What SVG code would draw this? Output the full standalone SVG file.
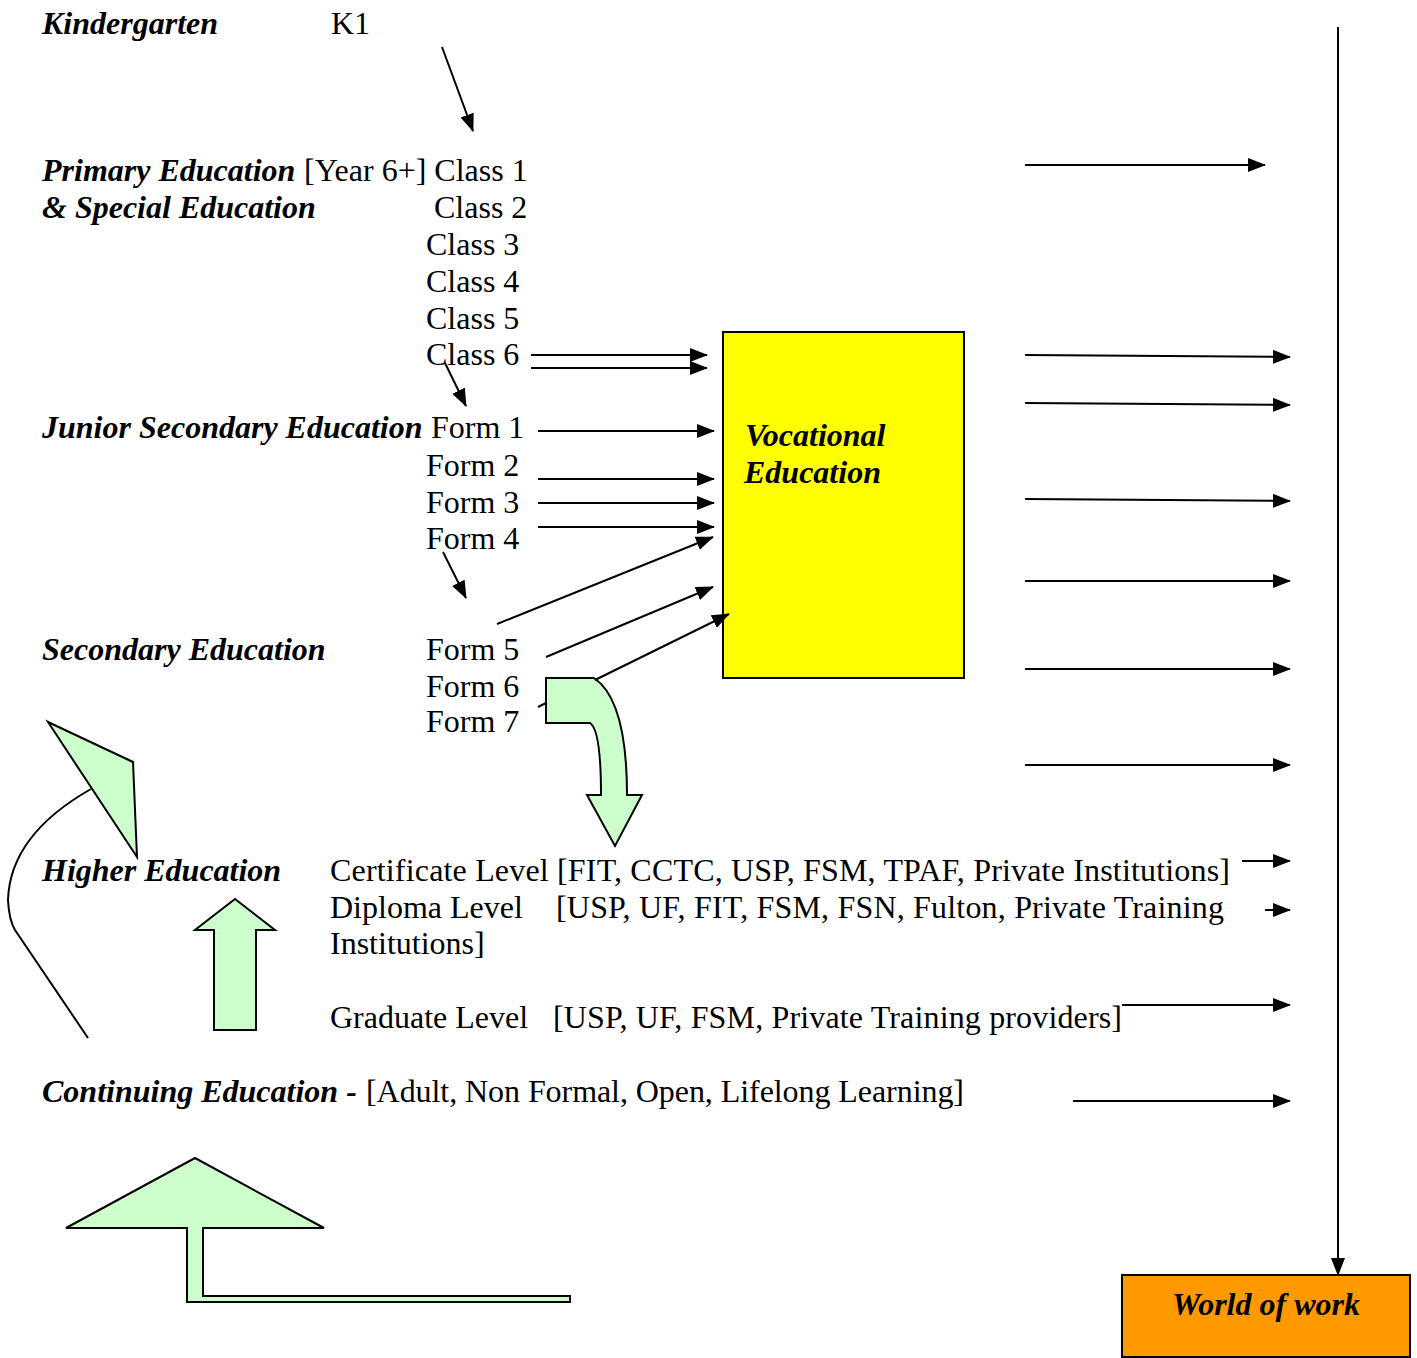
<svg xmlns="http://www.w3.org/2000/svg" width="1417" height="1358" viewBox="0 0 1417 1358">
<style>
text{font-family:"Liberation Serif","Times New Roman",serif;font-size:32px;fill:#000}
.bi{font-weight:bold;font-style:italic}
.c line,.c path.l{stroke:#000;stroke-width:2;fill:none}
.g{fill:#CCFFCC;stroke:#000;stroke-width:2;stroke-linejoin:miter}
</style>
<defs>
<marker id="ah" markerUnits="userSpaceOnUse" markerWidth="18" markerHeight="14" refX="17" refY="7" orient="auto">
<path d="M0,0 L18,7 L0,14 Z" fill="#000"/>
</marker>
</defs>
<rect width="1417" height="1358" fill="#fff"/>

<g id="labels">
<text x="42" y="34" class="bi">Kindergarten</text>
<text x="331" y="34">K1</text>
<text x="42" y="181" class="bi">Primary Education</text>
<text x="304" y="181">[Year 6+] Class 1</text>
<text x="42" y="218" class="bi">&amp; Special Education</text>
<text x="434" y="218">Class 2</text>
<text x="426" y="255">Class 3</text>
<text x="426" y="292">Class 4</text>
<text x="426" y="329">Class 5</text>
<text x="426" y="365">Class 6</text>
<text x="42" y="438" class="bi">Junior Secondary Education</text>
<text x="431" y="438">Form 1</text>
<text x="426" y="476">Form 2</text>
<text x="426" y="513">Form 3</text>
<text x="426" y="549">Form 4</text>
<text x="42" y="660" class="bi">Secondary Education</text>
<text x="426" y="660">Form 5</text>
<text x="426" y="697">Form 6</text>
<text x="426" y="732">Form 7</text>
<text x="42" y="881" class="bi">Higher Education</text>
<text x="330" y="881" textLength="900" lengthAdjust="spacing">Certificate Level [FIT, CCTC, USP, FSM, TPAF, Private Institutions]</text>
<text x="330" y="918">Diploma Level</text>
<text x="556" y="918" textLength="668" lengthAdjust="spacing">[USP, UF, FIT, FSM, FSN, Fulton, Private Training</text>
<text x="330" y="954">Institutions]</text>
<text x="330" y="1028">Graduate Level</text>
<text x="553" y="1028" textLength="569" lengthAdjust="spacing">[USP, UF, FSM, Private Training providers]</text>
<text x="42" y="1102" class="bi">Continuing Education -</text>
<text x="366" y="1102" textLength="598" lengthAdjust="spacing">[Adult, Non Formal, Open, Lifelong Learning]</text>
</g>

<g id="vocational">
<rect x="723" y="332" width="241" height="346" fill="#FFFF00" stroke="#000" stroke-width="2"/>
<text x="745" y="446" class="bi">Vocational</text>
<text x="744" y="483" class="bi">Education</text>
</g>

<g id="world-of-work">
<rect x="1122" y="1275" width="288" height="82" fill="#FF9900" stroke="#000" stroke-width="2"/>
<text x="1266" y="1315" class="bi" text-anchor="middle">World of work</text>
</g>

<g id="green-arrows">
<path class="g" d="M546,678 L594,678 Q627,700 627,795 L642,795 L615,846 L587,795 L601,795 Q601,730 590,723 L546,723 Z"/>
<path class="g" d="M48,722 L133,762 L137,857 Z"/>
<path class="g" d="M235,899 L275,930 L256,930 L256,1030 L214,1030 L214,930 L195,930 Z"/>
<path class="g" d="M195,1158 L324,1228 L203,1228 L203,1296 L570,1296 L570,1302 L187,1302 L187,1228 L66,1228 Z"/>
</g>

<g id="connectors" class="c">
<line x1="442" y1="47" x2="473" y2="131" marker-end="url(#ah)"/>
<line x1="445" y1="363" x2="466" y2="406" marker-end="url(#ah)"/>
<line x1="443" y1="552" x2="466" y2="598" marker-end="url(#ah)"/>
<line x1="531" y1="355" x2="707" y2="355" marker-end="url(#ah)"/>
<line x1="531" y1="368" x2="707" y2="368" marker-end="url(#ah)"/>
<line x1="538" y1="431" x2="714" y2="431" marker-end="url(#ah)"/>
<line x1="538" y1="479" x2="714" y2="479" marker-end="url(#ah)"/>
<line x1="538" y1="503" x2="714" y2="503" marker-end="url(#ah)"/>
<line x1="538" y1="527" x2="714" y2="527" marker-end="url(#ah)"/>
<line x1="497" y1="624" x2="713" y2="537" marker-end="url(#ah)"/>
<line x1="546" y1="657" x2="713" y2="587" marker-end="url(#ah)"/>
<line x1="595" y1="680" x2="729" y2="614" marker-end="url(#ah)"/>
<line x1="538" y1="707" x2="546" y2="703"/>
<path class="l" d="M91,789 Q10,835 8,900 Q9,920 15,930 L88,1038"/>
<line x1="1025" y1="165" x2="1265" y2="165" marker-end="url(#ah)"/>
<line x1="1025" y1="355" x2="1290" y2="357" marker-end="url(#ah)"/>
<line x1="1025" y1="403" x2="1290" y2="405" marker-end="url(#ah)"/>
<line x1="1025" y1="499" x2="1290" y2="501" marker-end="url(#ah)"/>
<line x1="1025" y1="581" x2="1290" y2="581" marker-end="url(#ah)"/>
<line x1="1025" y1="669" x2="1290" y2="669" marker-end="url(#ah)"/>
<line x1="1025" y1="765" x2="1290" y2="765" marker-end="url(#ah)"/>
<line x1="1242" y1="861" x2="1290" y2="861" marker-end="url(#ah)"/>
<line x1="1265" y1="910" x2="1290" y2="910" marker-end="url(#ah)"/>
<line x1="1122" y1="1005" x2="1290" y2="1005" marker-end="url(#ah)"/>
<line x1="1073" y1="1101" x2="1290" y2="1101" marker-end="url(#ah)"/>
<line x1="1338" y1="27" x2="1338" y2="1275" marker-end="url(#ah)"/>
</g>
</svg>
